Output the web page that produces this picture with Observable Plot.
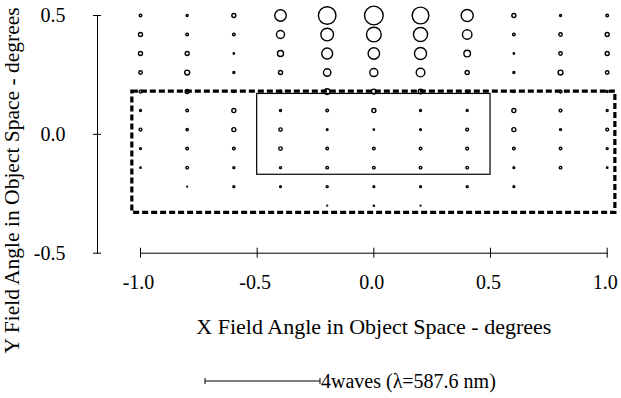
<!DOCTYPE html>
<html><head><meta charset="utf-8">
<script src="https://cdn.jsdelivr.net/npm/d3@7"></script>
<script src="https://cdn.jsdelivr.net/npm/@observablehq/plot@0.6"></script>
<style>
body{margin:0;background:#fff;}
#chart{position:relative;width:621px;height:398px;}
#legend{position:absolute;left:0;top:360px;}
</style>
</head><body><div id="chart"></div>
<script>
// Field grid (degrees)
const xFields = [-1.0, -0.8, -0.6, -0.4, -0.2, 0.0, 0.2, 0.4, 0.6, 0.8, 1.0];
const yFields = [0.50, 0.42, 0.34, 0.26, 0.18, 0.10, 0.02, -0.06, -0.14, -0.22, -0.30];

// Aberration magnitude (waves) per row, left to right
const wavesY050 = [0.09, 0.07, 0.14, 0.40, 0.61, 0.65, 0.58, 0.42, 0.14, 0.07, 0.09];
const wavesY042 = [0.14, 0.09, 0.09, 0.28, 0.44, 0.51, 0.49, 0.33, 0.09, 0.12, 0.14];
const wavesY034 = [0.14, 0.14, 0.05, 0.21, 0.38, 0.40, 0.42, 0.23, 0.05, 0.12, 0.14];
const wavesY026 = [0.12, 0.17, 0.07, 0.14, 0.26, 0.28, 0.30, 0.14, 0.07, 0.17, 0.12];
const wavesY018 = [0.10, 0.14, 0.07, 0.10, 0.20, 0.17, 0.16, 0.10, 0.07, 0.10, 0.07];
const wavesY010 = [0.07, 0.09, 0.14, 0.07, 0.09, 0.14, 0.07, 0.07, 0.14, 0.10, 0.07];
const wavesY002 = [0.10, 0.08, 0.14, 0.12, 0.06, 0.05, 0.06, 0.10, 0.14, 0.07, 0.10];
const wavesYm006 = [0.07, 0.09, 0.09, 0.12, 0.09, 0.09, 0.09, 0.10, 0.09, 0.09, 0.07];
const wavesYm014 = [0.05, 0.09, 0.07, 0.07, 0.09, 0.09, 0.09, 0.09, 0.06, 0.09, 0.05];
const wavesYm022 = [0, 0.03, 0.07, 0.06, 0.07, 0.06, 0.06, 0.07, 0.06, 0, 0];
const wavesYm030 = [0, 0, 0, 0, 0.03, 0.04, 0.03, 0, 0, 0, 0];

// Boxes (degrees)
const detectorBox = [{x1: -0.5, x2: 0.5, y1: -0.17, y2: 0.17}];
const fieldBox = [{x1: -1.035, x2: 1.035, y1: -0.33, y2: 0.18}];

// Ticks and texts
const xTicks = [-1.0, -0.5, 0.0, 0.5, 1.0];
const yTicks = [-0.5, 0.0, 0.5];
const xTitle = "X Field Angle in Object Space - degrees";
const yTitle = "Y Field Angle in Object Space - degrees";
const legendWaves = 4;
const legendLabel = "4waves (\u03BB=587.6 nm)";

const rows = [wavesY050, wavesY042, wavesY034, wavesY026, wavesY018, wavesY010,
              wavesY002, wavesYm006, wavesYm014, wavesYm022, wavesYm030];
const points = rows.flatMap((row, i) => row.map((w, j) => ({x: xFields[j], y: yFields[i], w})));

const fmt = d => d.toFixed(1);
const font = "'Liberation Serif', 'Times New Roman', serif";

const plot = Plot.plot({
  width: 621,
  height: 398,
  marginLeft: 140,
  marginRight: 14.3,
  marginTop: 15,
  marginBottom: 145.3,
  x: {domain: [-1, 1]},
  y: {domain: [-0.5, 0.5]},
  r: {type: "linear", domain: [0, 4], range: [0, 57.5]},
  style: {fontFamily: font, fontSize: "20px", background: "white", color: "black", overflow: "visible"},
  marks: [
    Plot.frame({anchor: "left", dx: -43, stroke: "black"}),
    Plot.frame({anchor: "bottom", stroke: "black"}),
    Plot.axisY(yTicks, {tickSize: 8, dx: -39, fill: "none", label: null, stroke: "black"}),
    Plot.axisY(yTicks, {tickSize: 0, tickPadding: 32, dx: -43, tickFormat: fmt, label: null, fill: "black"}),
    Plot.axisX(xTicks, {tickSize: 10, dy: -5, fill: "none", label: null, stroke: "black"}),
    Plot.axisX(xTicks, {tickSize: 0, tickPadding: 22, dx: -2, tickFormat: fmt, label: null, fill: "black"}),
    Plot.rect(fieldBox, {x1: "x1", x2: "x2", y1: "y1", y2: "y2", fill: "none", stroke: "black", strokeWidth: 3.2, strokeDasharray: "6,3"}),
    Plot.rect(detectorBox, {x1: "x1", x2: "x2", y1: "y1", y2: "y2", fill: "none", stroke: "black", strokeWidth: 1.2}),
    Plot.dot(points, {x: "x", y: "y", r: "w", stroke: "black", strokeWidth: 1.4, fill: "none"}),
    Plot.text([xTitle], {frameAnchor: "bottom", dy: 74, lineAnchor: "middle", textAnchor: "middle", fontSize: 22, text: d => d, fill: "black"}),
    Plot.text([yTitle], {frameAnchor: "left", rotate: -90, dx: -128, dy: 46, lineAnchor: "middle", textAnchor: "middle", fontSize: 21.5, text: d => d, fill: "black"})
  ]
});

const chart = document.getElementById("chart");
chart.appendChild(plot);

// Legend: scale bar whose length is the circle diameter for legendWaves
const rScale = plot.scale("r");
const len = 2 * (rScale.range[1] - rScale.range[0]) * (legendWaves - rScale.domain[0]) / (rScale.domain[1] - rScale.domain[0]);
const lx = 205, ly = 21;
const svg = d3.create("svg").attr("id", "legend").attr("width", 621).attr("height", 38)
  .style("font-family", font).style("font-size", "20px");
svg.append("line").attr("x1", lx).attr("x2", lx + len).attr("y1", ly).attr("y2", ly).attr("stroke", "black");
svg.append("line").attr("x1", lx).attr("x2", lx).attr("y1", ly - 3).attr("y2", ly + 3).attr("stroke", "black");
svg.append("line").attr("x1", lx + len).attr("x2", lx + len).attr("y1", ly - 3).attr("y2", ly + 3).attr("stroke", "black");
svg.append("text").attr("x", lx + len + 1).attr("y", ly).attr("dy", "0.35em").attr("fill", "black").text(legendLabel);
chart.appendChild(svg.node());
</script>
</body></html>
